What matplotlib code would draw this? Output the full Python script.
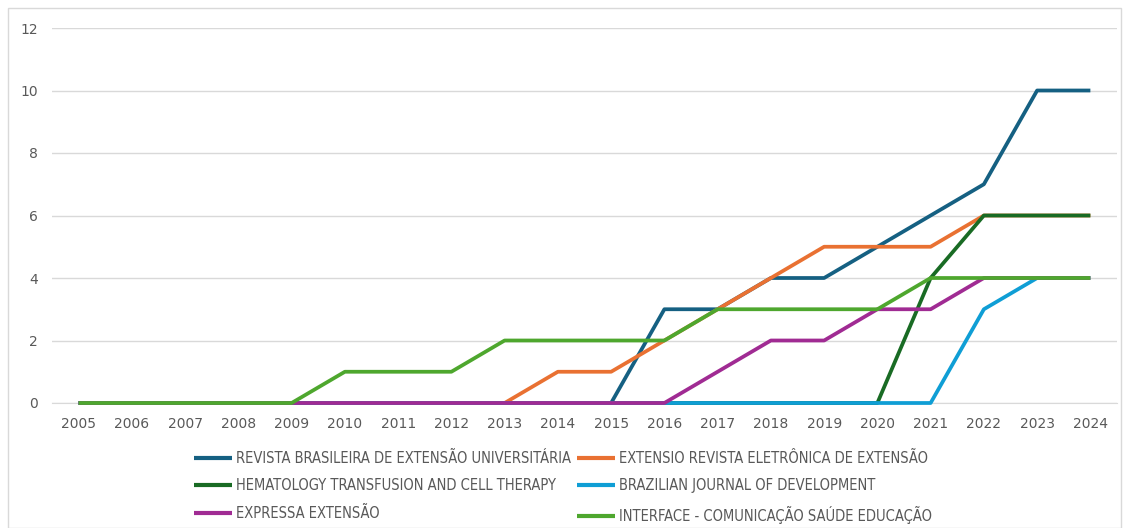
import matplotlib.pyplot as plt
from matplotlib.patches import Rectangle
from matplotlib.font_manager import FontProperties

years = [str(y) for y in range(2005, 2025)]

revista_brasileira = [0, 0, 0, 0, 0, 0, 0, 0, 0, 0, 0, 3, 3, 4, 4, 5, 6, 7, 10, 10]
extensio = [0, 0, 0, 0, 0, 0, 0, 0, 0, 1, 1, 2, 3, 4, 5, 5, 5, 6, 6, 6]
hematology = [0, 0, 0, 0, 0, 0, 0, 0, 0, 0, 0, 0, 0, 0, 0, 0, 4, 6, 6, 6]
brazilian_journal = [0, 0, 0, 0, 0, 0, 0, 0, 0, 0, 0, 0, 0, 0, 0, 0, 0, 3, 4, 4]
expressa = [0, 0, 0, 0, 0, 0, 0, 0, 0, 0, 0, 0, 1, 2, 2, 3, 3, 4, 4, 4]
interface = [0, 0, 0, 0, 0, 1, 1, 1, 2, 2, 2, 2, 3, 3, 3, 3, 4, 4, 4, 4]

labels = [
    "REVISTA BRASILEIRA DE EXTENSÃO UNIVERSITÁRIA",
    "EXTENSIO REVISTA ELETRÔNICA DE EXTENSÃO",
    "HEMATOLOGY TRANSFUSION AND CELL THERAPY",
    "BRAZILIAN JOURNAL OF DEVELOPMENT",
    "EXPRESSA EXTENSÃO",
    "INTERFACE - COMUNICAÇÃO SAÚDE EDUCAÇÃO",
]
series = [revista_brasileira, extensio, hematology, brazilian_journal, expressa, interface]
colors = ["#156082", "#E97132", "#196B24", "#0F9ED5", "#A02B93", "#4EA72E"]

W, H = 1129, 528
fig = plt.figure(figsize=(W / 100, H / 100), dpi=100)
ax = fig.add_axes([52 / W, 1 - 403 / H, (1117 - 52) / W, (403 - 28) / H])

x = list(range(len(years)))
for vals, lab, c in zip(series, labels, colors):
    ax.plot(x, vals, color=c, lw=2.7, label=lab, solid_capstyle="butt",
            clip_on=False, zorder=3)

ax.set_xlim(-0.5, len(years) - 0.5)
ax.set_ylim(0, 12)
ax.set_yticks(range(0, 13, 2))
ax.set_xticks(x)
ax.set_xticklabels(years)
ax.grid(axis="y", color="#D9D9D9", lw=1)
ax.set_axisbelow(True)
for s in ["top", "right", "left"]:
    ax.spines[s].set_visible(False)
ax.spines["bottom"].set_color("#D9D9D9")
ax.tick_params(axis="both", length=0, labelsize=10, labelcolor="#595959")
ax.tick_params(axis="y", pad=10)
ax.tick_params(axis="x", pad=10)

# legend, 3 rows x 2 columns
handles, labs = ax.get_legend_handles_labels()
order = [0, 2, 4, 1, 3, 5]
fp = FontProperties(family="DejaVu Sans", stretch="condensed", size=10.5)
leg = fig.legend([handles[i] for i in order], [labs[i] for i in order],
                 ncol=2, frameon=False, loc="upper left",
                 bbox_to_anchor=(188 / W, 1 - 445 / H),
                 prop=fp, borderaxespad=0,
                 handlelength=2.6, handletextpad=0.3, columnspacing=0.4,
                 labelspacing=0.85, labelcolor="#595959")
for line in leg.get_lines():
    line.set_linewidth(3)

fig.patches.append(Rectangle((8 / W, 0), (1121 - 8) / W, 1 - 8 / H,
                             transform=fig.transFigure, fill=False,
                             edgecolor="#D9D9D9", lw=1))

fig.savefig("out.png", dpi=100)
